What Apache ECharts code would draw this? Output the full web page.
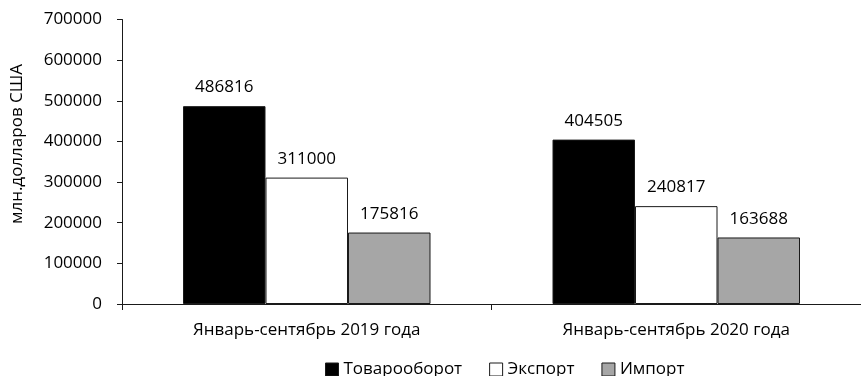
<!DOCTYPE html>
<html>
<head>
<meta charset="utf-8">
<style>
  html, body { margin: 0; padding: 0; background: #fff; }
  #chart { width: 861px; height: 376px; }
</style>
<script src="https://cdn.jsdelivr.net/npm/echarts@6/dist/echarts.min.js"></script>
</head>
<body>
<div id="chart"></div>
<script>
// Periods on the category axis
const categories = ['Январь-сентябрь 2019 года', 'Январь-сентябрь 2020 года'];
// Values, млн. долларов США
const turnover = [486816, 404505];
const exports = [311000, 240817];
const imports = [175816, 163688];
// Value axis range and step
const yMin = 0;
const yMax = 700000;
const yStep = 100000;

const FONT = '"Open Sans", "DejaVu Sans", sans-serif';
const FS = 17;
const TEXT = '#000';
const LINE = '#1a1a1a';

const chart = echarts.init(document.getElementById('chart'), null, { renderer: 'canvas' });

function barSeries(name, data, fill) {
  return {
    name: name,
    type: 'bar',
    data: data,
    barWidth: 82.5,
    barGap: '0%',
    itemStyle: { color: fill, borderColor: LINE, borderWidth: 1 },
    label: {
      show: true,
      position: 'top',
      distance: 10,
      color: TEXT,
      fontFamily: FONT,
      fontSize: FS
    }
  };
}

chart.setOption({
  animation: false,
  backgroundColor: '#fff',
  textStyle: { fontFamily: FONT, color: TEXT },
  grid: { left: 122, right: -2, top: 19.5, bottom: 72, containLabel: false },
  legend: {
    top: 356,
    left: 320,
    itemWidth: 13,
    itemHeight: 13,
    itemGap: 27,
    itemStyle: { borderWidth: 1, borderColor: LINE },
    icon: 'rect',
    textStyle: { fontFamily: FONT, fontSize: FS, color: TEXT, padding: [0, 0, 0, 0] },
    data: ['Товарооборот', 'Экспорт', 'Импорт']
  },
  graphic: [{
    type: 'text',
    x: 17,
    y: 144,
    rotation: Math.PI / 2,
    style: {
      text: 'млн.долларов США',
      font: FS + 'px ' + FONT,
      fill: TEXT,
      textAlign: 'center',
      textVerticalAlign: 'middle'
    }
  }],
  xAxis: {
    type: 'category',
    data: categories,
    axisLine: { show: true, lineStyle: { color: LINE, width: 1 } },
    axisTick: { show: true, length: 6, lineStyle: { color: LINE } },
    axisLabel: { color: TEXT, fontFamily: FONT, fontSize: FS, margin: 18 }
  },
  yAxis: {
    type: 'value',
    min: yMin,
    max: yMax,
    interval: yStep,
    splitLine: { show: false },
    axisLine: { show: true, lineStyle: { color: LINE, width: 1 } },
    axisTick: { show: true, length: 5, lineStyle: { color: LINE } },
    axisLabel: { color: TEXT, fontFamily: FONT, fontSize: FS, margin: 20, formatter: v => String(v) }
  },
  series: [
    barSeries('Товарооборот', turnover, '#000000'),
    barSeries('Экспорт', exports, '#ffffff'),
    barSeries('Импорт', imports, '#a6a6a6')
  ]
});
</script>
</body>
</html>
